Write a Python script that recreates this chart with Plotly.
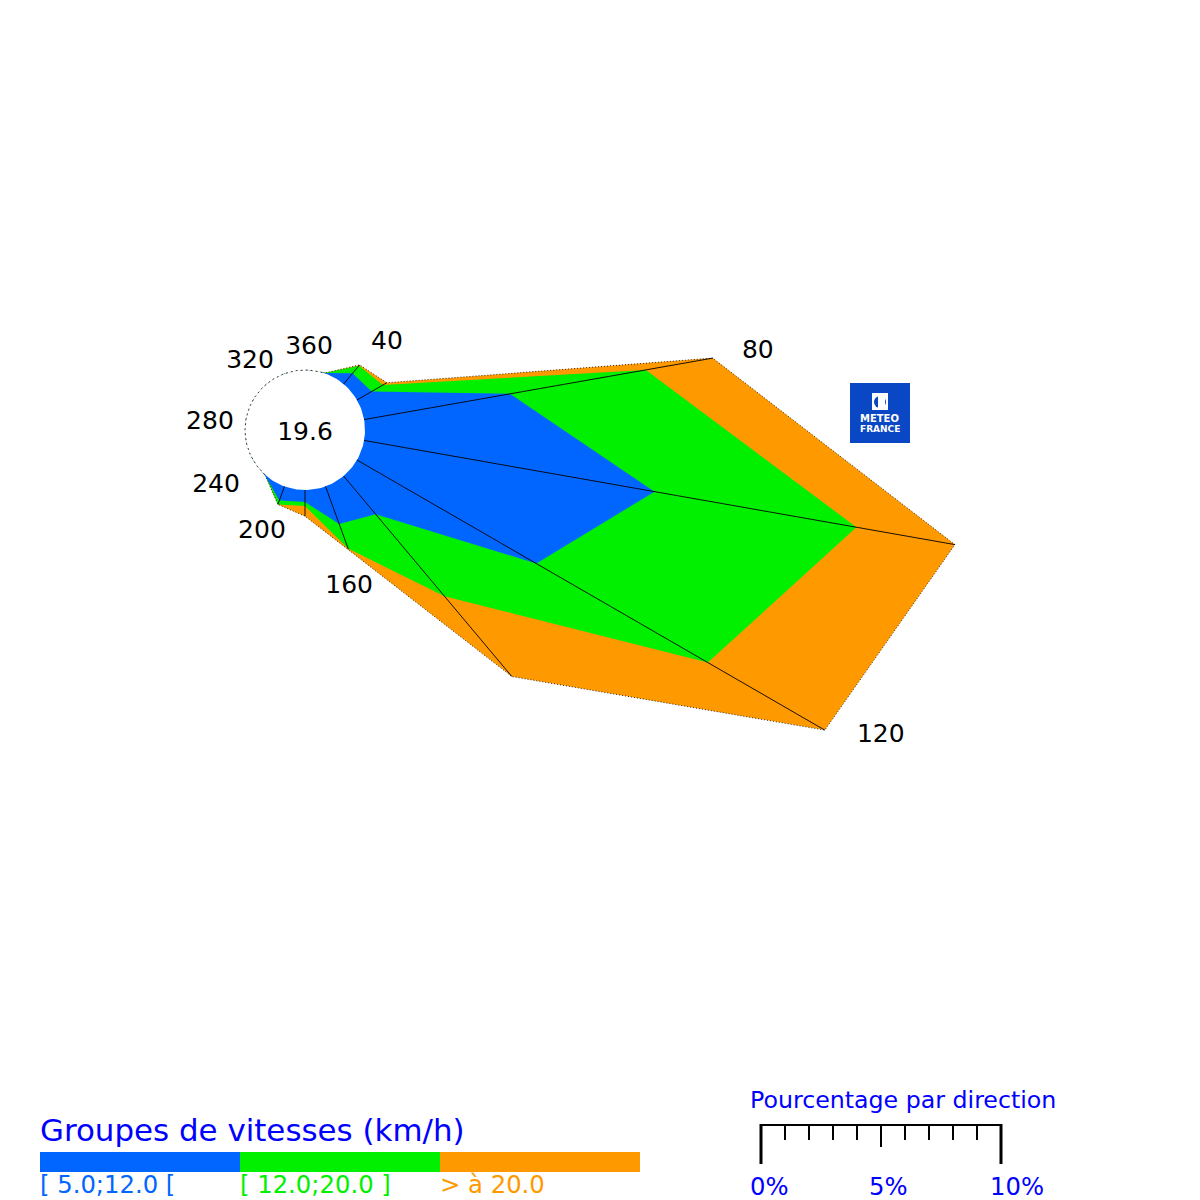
import numpy as np
import plotly.graph_objects as go

# wind rose values, percent per direction and speed group
directions = [20, 40, 60, 80, 100, 120, 140, 160, 180, 200, 220, 240, 260, 280, 300, 320, 340, 360]
low_speed = [0.03, 0.58, 0.71, 6.17, 12.29, 8.63, 2.08, 1.67, 0.50, 0.63, 0.04, 0, 0, 0, 0, 0, 0, 0]
mid_speed = [0.01, 0.42, 0.54, 5.75, 8.54, 8.25, 4.46, 1.08, 0.17, 0.17, 0.00, 0, 0, 0, 0, 0, 0, 0]
high_speed = [0.00, 0.04, 0.19, 2.83, 4.17, 5.63, 4.37, 0.04, 0.42, 0.00, 0.00, 0, 0, 0, 0, 0, 0, 0]

calm_value = "19.6"
label_dirs = [43.3, 80.2, 118, 164.3, 202.9, 237.8, 274.2, 321, 2.8]
label_texts = ["40", "80", "120", "160", "200", "240", "280", "320", "360"]
label_r = [2.48, 16.65, 24.67, 4.29, 2.11, 1.88, 1.47, 1.14, 0.92]

group_names = ["[ 5.0;12.0 [", "[ 12.0;20.0 ]", "> à 20.0"]
group_colors = ["#0066ff", "#00f000", "#ff9900"]
scale_labels = ["0%", "5%", "10%"]

FONT = "DejaVu Sans"
TEXT_BLUE = "#0000ff"
LOGO_BLUE = "#0a47c4"
HOLE = 2.5  # radius of the centre circle, in percent units
PX_PER_PCT = 24


def px(x):
    return x / 1200


def py(y):
    return 1 - y / 1200


def to_xy(r, deg):
    # compass direction to x/y, r counted from the edge of the centre circle
    rad = np.radians(np.array(deg, dtype=float))
    rr = np.array(r, dtype=float) + HOLE
    return rr * np.sin(rad), rr * np.cos(rad)


def closed(values):
    return list(values) + [values[0]]


cum1 = np.array(low_speed)
cum2 = cum1 + np.array(mid_speed)
cum3 = cum2 + np.array(high_speed)

fig = go.Figure()

# biggest polygon first, the smaller groups go on top
for cum, color, name in zip([cum3, cum2, cum1], group_colors[::-1], group_names[::-1]):
    x, y = to_xy(closed(cum.tolist()), closed(directions))
    fig.add_trace(go.Scatter(x=x, y=y, mode="lines", fill="toself", fillcolor=color,
                             line=dict(color=color, width=0), name=name))

# outer edge
x, y = to_xy(cum3[:11], directions[:11])
fig.add_trace(go.Scatter(x=x, y=y, mode="lines", line=dict(color="black", width=0.8, dash="1px,2px")))

# white centre
circle_theta = np.arange(0, 361, 2)
x, y = to_xy(np.zeros(len(circle_theta)), circle_theta)
fig.add_trace(go.Scatter(x=x, y=y, mode="lines", fill="toself", fillcolor="white",
                         line=dict(color="white", width=0)))
arc_theta = np.arange(222, 382, 2)
x, y = to_xy(np.zeros(len(arc_theta)), arc_theta)
fig.add_trace(go.Scatter(x=x, y=y, mode="lines", line=dict(color="black", width=0.8, dash="2px,3px")))

# spokes
for d, r in zip(directions[1:10], cum3[1:10]):
    x, y = to_xy([0, r], [d, d])
    fig.add_trace(go.Scatter(x=x, y=y, mode="lines", line=dict(color="black", width=0.9)))

# direction labels and calm percentage
x, y = to_xy(label_r, label_dirs)
fig.add_trace(go.Scatter(x=x, y=y, mode="text", text=label_texts,
                         textfont=dict(family=FONT, size=25, color="black")))
fig.add_trace(go.Scatter(x=[0], y=[-0.16], mode="text", text=[calm_value],
                         textfont=dict(family=FONT, size=25, color="black")))

shapes = []
annotations = []


def rect(x0, y0, x1, y1, color):
    shapes.append(dict(type="rect", xref="paper", yref="paper", x0=px(x0), x1=px(x1), y0=py(y0), y1=py(y1),
                       fillcolor=color, line=dict(width=0), layer="above"))


def line(x0, y0, x1, y1, width):
    shapes.append(dict(type="line", xref="paper", yref="paper", x0=px(x0), x1=px(x1), y0=py(y0), y1=py(y1),
                       line=dict(color="black", width=width), layer="above"))


def text(x, y, s, size, color, anchor="left"):
    annotations.append(dict(xref="paper", yref="paper", x=px(x), y=py(y), text=s, showarrow=False,
                            xanchor=anchor, yanchor="middle", align=anchor,
                            font=dict(family=FONT, size=size, color=color)))


# speed groups legend
text(38, 1130, "Groupes de vitesses (km/h)", 30.9, TEXT_BLUE)
for i, (name, color) in enumerate(zip(group_names, group_colors)):
    rect(40 + i * 200, 1152, 240 + i * 200, 1172, color)
    text(38 + i * 200, 1184, name, 24.3, color)

# percentage scale
text(748, 1100, "Pourcentage par direction", 23.7, TEXT_BLUE)
line(760, 1125, 1002, 1125, 2)
line(761, 1124, 761, 1164, 3)
line(1001, 1124, 1001, 1164, 3)
for i in range(1, 10):
    line(761 + i * 24, 1125, 761 + i * 24, 1147 if i == 5 else 1140, 2)
for x, s in zip([769, 888, 1017], scale_labels):
    text(x, 1186, s, 24.3, TEXT_BLUE, anchor="center")

# logo
rect(850, 383, 910, 443, LOGO_BLUE)
rect(872, 393, 888, 410, "white")
shapes.append(dict(type="circle", xref="paper", yref="paper", x0=px(874), x1=px(886), y0=py(396), y1=py(408),
                   fillcolor=LOGO_BLUE, line=dict(width=0), layer="above"))
rect(878, 394, 885, 409, "white")
text(880, 419, "<b>METEO</b>", 10, "white", anchor="center")
text(880, 429, "<b>FRANCE</b>", 9, "white", anchor="center")

fig.update_layout(
    width=1200, height=1200, margin=dict(l=0, r=0, t=0, b=0),
    paper_bgcolor="white", plot_bgcolor="white", showlegend=False, shapes=shapes, annotations=annotations,
    xaxis=dict(range=[-305 / PX_PER_PCT, 895 / PX_PER_PCT], visible=False),
    yaxis=dict(range=[-770 / PX_PER_PCT, 430 / PX_PER_PCT], visible=False),
)

fig.write_html("out.html", config=dict(displayModeBar=False), post_script="document.body.style.margin='0';")
